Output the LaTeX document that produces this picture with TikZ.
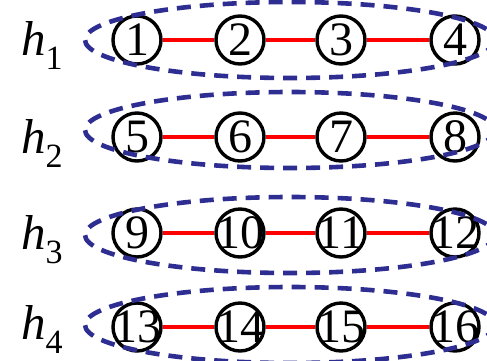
\documentclass[tikz,border=0pt]{standalone}
\usepackage{fontspec}
\setmainfont{Liberation Serif}
\usetikzlibrary{calc}
\definecolor{ellblue}{RGB}{46,46,146}
\tikzset{
  vert/.style={circle,draw=black,line width=3.4pt,minimum size=48pt,inner sep=0pt},
  link/.style={draw=red,line width=3.2pt},
  grp/.style={draw=ellblue,line width=4.6pt,dash pattern=on 14pt off 9pt},
  hlab/.style={anchor=base west,inner sep=0pt}
}
\newcommand{\numtxt}[1]{\makebox[0pt]{\fontsize{48}{48}\selectfont #1}}
\newcommand{\hsym}[1]{{\fontsize{49}{49}\selectfont\itshape h}\smash{\raisebox{-14pt}{\fontsize{34}{34}\selectfont #1}}}
\begin{document}
\begin{tikzpicture}[x=1pt,y=-1pt]
\useasboundingbox (0,0) rectangle (487,360);
% rows
\foreach \r/\cy/\ey/\hb in {1/40/40/55, 2/137/130/153, 3/233/235/249, 4/327/325/339}{
  \pgfmathtruncatemacro{\a}{4*(\r-1)+1}
  \pgfmathtruncatemacro{\b}{4*(\r-1)+2}
  \pgfmathtruncatemacro{\c}{4*(\r-1)+3}
  \pgfmathtruncatemacro{\d}{4*(\r-1)+4}
  \node[vert] (c\a) at (137,\cy) {\numtxt{\a}};
  \node[vert] (c\b) at (240,\cy) {\numtxt{\b}};
  \node[vert] (c\c) at (341,\cy) {\numtxt{\c}};
  \node[vert] (c\d) at (455,\cy) {\numtxt{\d}};
  \draw[link] (c\a) -- (c\b);
  \draw[link] (c\b) -- (c\c);
  \draw[link] (c\c) -- (c\d);
  \node[hlab] (h\r) at (21,\hb) {\hsym{\r}};
  \node[draw=none,inner sep=0pt] (e\r) at (290,\ey) {};
  \begin{scope}
    \clip (0,0) rectangle (487,360);
    \draw[grp] (e\r) ellipse [x radius=205, y radius=38];
  \end{scope}
}
\end{tikzpicture}
\end{document}
